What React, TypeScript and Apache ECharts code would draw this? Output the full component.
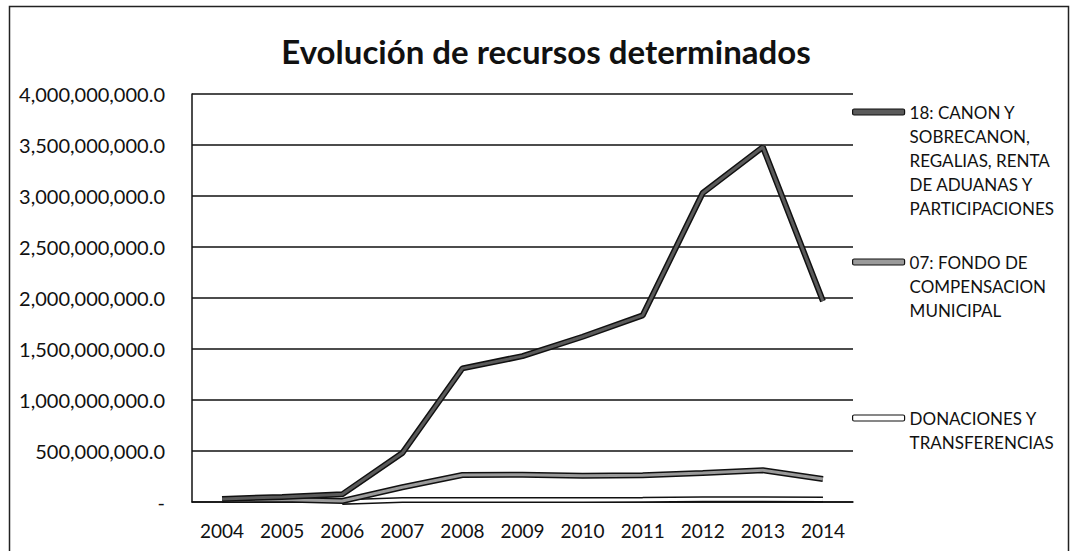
import React, { useEffect, useRef } from "react";
import * as echarts from "echarts";

const years = ["2004", "2005", "2006", "2007", "2008", "2009", "2010", "2011", "2012", "2013", "2014"];
const canon = [30e6, 50e6, 75e6, 480e6, 1310e6, 1430e6, 1620e6, 1830e6, 3030e6, 3480e6, 1970e6];
const fondo = [20e6, 25e6, 10e6, 145e6, 265e6, 268e6, 258e6, 262e6, 285e6, 312e6, 225e6];
const donaciones = [null, null, 0, 20e6, 20e6, 20e6, 20e6, 22e6, 28e6, 28e6, 25e6];

const seriesNames = [
  "18: CANON Y SOBRECANON, REGALIAS, RENTA DE ADUANAS Y PARTICIPACIONES",
  "07: FONDO DE COMPENSACION MUNICIPAL",
  "DONACIONES Y TRANSFERENCIAS",
];
const legendLines = [
  ["18: CANON Y", "SOBRECANON,", "REGALIAS, RENTA", "DE ADUANAS Y", "PARTICIPACIONES"],
  ["07: FONDO DE", "COMPENSACION", "MUNICIPAL"],
  ["DONACIONES Y", "TRANSFERENCIAS"],
];
const seriesValues = [canon, fondo, donaciones];
const innerColors = ["#5a5a5a", "#9a9a9a", "#ffffff"];
const legendCenters = [112, 262, 418];

function fmtAxis(v: number): string {
  if (v === 0) return "-";
  return v.toLocaleString("en-US", { minimumFractionDigits: 1, maximumFractionDigits: 1 });
}

export default function App() {
  const ref = useRef<HTMLDivElement>(null);
  useEffect(() => {
    if (!ref.current) return;
    const chart = echarts.init(ref.current, null, { renderer: "svg" });
    const font = "Lato, 'Open Sans', sans-serif";
    const LH = 24;

    const series: any[] = [];
    seriesValues.forEach((vals, i) => {
      series.push({
        type: "line",
        name: seriesNames[i] + " (borde)",
        data: vals,
        symbol: "none",
        z: 10 - i * 2,
        lineStyle: { color: "#111", width: 6 },
      });
      series.push({
        type: "line",
        name: seriesNames[i],
        data: vals,
        symbol: "none",
        z: 11 - i * 2,
        itemStyle: { color: innerColors[i] },
        lineStyle: { color: innerColors[i], width: 3 },
      });
    });

    const legends = seriesNames.map((name, i) => {
      const n = legendLines[i].length;
      const blanks: string[] = [];
      for (let k = 0; k < n - 1; k++) blanks.push("\u00a0");
      return {
        left: 847,
        top: legendCenters[i] - 5 - ((2 * n - 1) * LH) / 2,
        orient: "vertical",
        icon: "roundRect",
        itemWidth: 52,
        itemHeight: 6,
        data: [
          {
            name,
            itemStyle: { color: innerColors[i], borderColor: "#111", borderWidth: 1.2 },
          },
        ],
        formatter: () => blanks.concat(legendLines[i]).join("\n"),
        textStyle: {
          fontFamily: font,
          fontSize: 17,
          color: "#111",
          lineHeight: LH,
        },
      };
    });

    chart.setOption({
      animation: false,
      backgroundColor: "#ffffff",
      title: {
        text: "Evolución de recursos determinados",
        left: 541,
        textAlign: "center",
        top: 29,
        textStyle: { fontFamily: font, fontSize: 33, fontWeight: "bold", color: "#111" },
      },
      legend: legends,
      grid: { left: 192, right: 219, top: 94, bottom: 49 },
      xAxis: {
        type: "category",
        data: years,
        boundaryGap: true,
        axisLine: { lineStyle: { color: "#111", width: 1.5 } },
        axisTick: { show: false },
        axisLabel: { fontFamily: font, fontSize: 19, color: "#111", margin: 19 },
      },
      yAxis: {
        type: "value",
        min: 0,
        max: 4000000000,
        interval: 500000000,
        axisLine: { show: true, lineStyle: { color: "#111", width: 1.5 } },
        axisTick: { show: false },
        splitLine: { lineStyle: { color: "#111", width: 1.5 } },
        axisLabel: {
          fontFamily: font,
          fontSize: 20,
          color: "#111",
          margin: 27,
          formatter: fmtAxis,
        },
      },
      graphic: [
        {
          type: "rect",
          shape: { x: 9.5, y: 6.5, width: 1059, height: 600 },
          style: { fill: "none", stroke: "#222", lineWidth: 1.5 },
          silent: true,
          z: 100,
        },
      ],
      series,
    });
    return () => chart.dispose();
  }, []);
  return (
    <div
      ref={ref}
      style={{ position: "fixed", left: 0, top: 0, width: 1072, height: 551, background: "#fff" }}
    />
  );
}
